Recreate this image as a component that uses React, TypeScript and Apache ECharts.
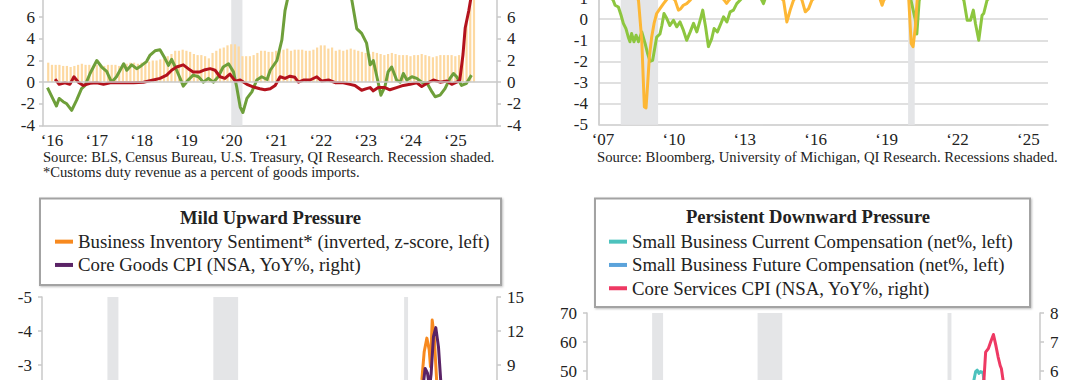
import React, { useEffect, useRef } from "react";
import * as echarts from "echarts";

const FONT = "'Liberation Serif', 'Times New Roman', serif";
const AXIS_GRAY = "#C9C9C9";
const SHADE = "#E4E5E7";
const TEXT = "#222222";

// ---------- Top-left panel ----------
const tlYearTicks = [2016, 2017, 2018, 2019, 2020, 2021, 2022, 2023, 2024, 2025];
const tlValueTicks = [-4, -2, 0, 2, 4, 6];
const tlBarStart = 2015 + 11 / 12; // Dec 2015, monthly
const tlDutyRate = [
  1.8,
  1.6, 1.6, 1.6, 1.5, 1.5, 1.4, 1.5, 1.6, 1.7, 1.6, 1.6, 1.5,
  1.6, 1.5, 1.5, 1.6, 1.6, 1.6, 1.5, 1.6, 1.7, 1.8, 1.8, 1.7,
  1.8, 1.8, 1.9, 2.0, 2.0, 2.1, 2.2, 2.4, 2.6, 2.9, 2.9, 3.0,
  2.9, 2.8, 2.6, 2.5, 2.5, 2.4, 2.2, 2.7, 2.9, 3.1, 3.2, 3.4,
  3.5, 3.5, 3.3, 2.4, 2.4, 2.4, 2.5, 2.7, 2.9, 2.9, 2.8, 2.8,
  2.9, 2.9, 3.0, 3.1, 2.9, 3.0, 3.0, 3.0, 2.9, 2.9, 3.0, 3.2,
  3.4, 3.4, 3.1, 3.2, 2.9, 3.0, 2.9, 3.0, 3.1, 3.0, 2.9, 2.8,
  2.7, 2.6, 2.8, 2.7, 2.6, 2.5, 2.6, 2.7, 2.6, 2.5, 2.5, 2.5,
  2.4, 2.5, 2.5, 2.6, 2.5, 2.4, 2.3, 2.4, 2.5, 2.5, 2.5, 2.5,
  2.4, 2.5, 2.7, 5.5, 8.6, 9.5,
];
const tlGreen = [
  [2015.9, -0.5], [2016.0, -1.35], [2016.1, -2.2], [2016.16, -1.5], [2016.25, -1.8], [2016.33, -2.0],
  [2016.44, -2.6], [2016.55, -1.65], [2016.66, -0.6], [2016.74, -0.3], [2016.85, 0.8], [2017.0, 2.0],
  [2017.11, 1.4], [2017.22, 1.0], [2017.33, 0.0], [2017.44, 0.5], [2017.6, 1.7], [2017.67, 1.1],
  [2017.78, 1.6], [2017.89, 1.25], [2018.0, 1.55], [2018.11, 1.9], [2018.19, 2.5], [2018.3, 2.9],
  [2018.41, 3.0], [2018.52, 2.2], [2018.6, 1.55], [2018.67, 2.1], [2018.75, 1.4], [2018.86, 0.35],
  [2018.93, -0.37], [2019.04, 0.2], [2019.15, 0.65], [2019.27, 0.5], [2019.38, 0.0], [2019.49, 0.35],
  [2019.6, 0.0], [2019.71, 0.5], [2019.82, 1.4], [2019.94, 1.7], [2020.05, 0.95], [2020.12, -0.4],
  [2020.2, -2.3], [2020.26, -2.8], [2020.35, -1.5], [2020.46, -0.9], [2020.57, 0.2], [2020.68, 0.5],
  [2020.8, 0.25], [2020.87, 1.1], [2021.02, 2.0], [2021.13, 3.9], [2021.2, 6.6], [2021.3, 8.5],
  [2021.5, 10.0], [2021.9, 11.0], [2022.2, 11.5], [2022.5, 9.5], [2022.69, 7.6], [2022.8, 4.95],
  [2022.91, 4.5], [2023.02, 3.6], [2023.1, 1.6], [2023.17, 2.0], [2023.25, 0.5], [2023.34, -1.2],
  [2023.43, -0.4], [2023.5, 0.95], [2023.58, 1.4], [2023.69, 0.2], [2023.77, 0.0], [2023.84, 0.8],
  [2023.92, 0.2], [2024.03, 0.5], [2024.14, 0.35], [2024.25, 0.0], [2024.37, -0.1], [2024.48, -0.9],
  [2024.55, -1.35], [2024.66, -1.2], [2024.77, -0.6], [2024.88, 0.35], [2024.96, 0.8], [2025.03, 0.5],
  [2025.14, -0.3], [2025.25, -0.1], [2025.36, 0.65],
];
const tlRed = [
  [2016.07, 0.28], [2016.16, -0.2], [2016.29, -0.05], [2016.4, -0.2], [2016.49, 0.5], [2016.59, 0.0],
  [2016.7, -0.3], [2016.85, -0.1], [2017.0, -0.05], [2017.15, -0.2], [2017.3, -0.05], [2017.52, -0.05],
  [2017.82, -0.05], [2018.04, 0.0], [2018.26, 0.2], [2018.41, 0.35], [2018.56, 0.65], [2018.67, 1.1],
  [2018.78, 1.4], [2018.93, 1.6], [2019.04, 1.25], [2019.15, 0.95], [2019.3, 0.95], [2019.42, 1.15],
  [2019.53, 1.25], [2019.64, 1.1], [2019.75, 0.5], [2019.86, 0.35], [2019.97, 0.75], [2020.09, 0.1],
  [2020.2, 0.2], [2020.35, -0.2], [2020.5, -0.45], [2020.64, -0.6], [2020.75, -0.7], [2020.87, -0.6],
  [2020.98, -0.3], [2021.09, 0.5], [2021.2, 0.35], [2021.31, 0.55], [2021.42, 0.45], [2021.5, 0.0],
  [2021.61, 0.2], [2021.76, 0.2], [2021.91, 0.5], [2022.02, 0.1], [2022.17, 0.2], [2022.32, -0.05],
  [2022.5, -0.05], [2022.65, -0.2], [2022.76, -0.3], [2022.91, -0.75], [2023.02, -0.6], [2023.1, -0.5],
  [2023.17, -0.8], [2023.28, -0.5], [2023.43, -0.5], [2023.54, -0.7], [2023.69, -0.5], [2023.84, -0.3],
  [2023.99, -0.2], [2024.14, -0.05], [2024.25, -0.4], [2024.37, -0.1], [2024.51, 0.2], [2024.66, 0.0],
  [2024.81, 0.1], [2024.92, -0.2], [2025.03, 0.0], [2025.1, 0.2], [2025.17, 2.5], [2025.22, 5.0],
  [2025.3, 6.6], [2025.42, 9.5],
];
const tlRecessions = [[2020.0, 2020.25]];

// ---------- Top-right panel ----------
const trYearTicks = [2007, 2010, 2013, 2016, 2019, 2022, 2025];
const trValueTicks = [-5, -4, -3, -2, -1, 0, 1];
const trGreen = [
  [2007.0, 1.6], [2007.3, 1.3], [2007.6, 0.9], [2007.68, 0.66], [2007.82, 0.58], [2007.93, 0.2],
  [2008.03, -0.2], [2008.14, -0.45], [2008.24, -0.85], [2008.31, -1.07], [2008.38, -0.68], [2008.48, -1.07],
  [2008.57, -0.76], [2008.67, -1.07], [2008.81, -0.6], [2008.95, -1.15], [2009.05, -1.6], [2009.16, -2.0],
  [2009.27, -1.95], [2009.37, -1.3], [2009.44, -0.85], [2009.58, -0.7], [2009.66, -0.3], [2009.75, 0.27],
  [2009.87, 0.03], [2010.0, -0.3], [2010.15, -0.05], [2010.29, -0.36], [2010.43, -0.13], [2010.57, -0.52],
  [2010.71, -1.0], [2010.86, -0.6], [2011.0, -0.2], [2011.14, -0.6], [2011.28, -0.05], [2011.39, 0.43],
  [2011.51, -0.36], [2011.63, -1.3], [2011.77, -0.92], [2011.87, -0.44], [2012.01, -0.6], [2012.16, -0.2],
  [2012.27, 0.11], [2012.41, -0.13], [2012.55, 0.35], [2012.69, 0.43], [2012.83, 0.74], [2012.97, 0.9],
  [2013.3, 1.3], [2013.8, 1.1], [2013.96, 0.74], [2014.1, 1.2], [2015.0, 1.5], [2016.0, 1.4],
  [2017.0, 1.7], [2018.0, 1.8], [2019.0, 1.6], [2019.9, 1.3], [2020.2, 0.9], [2020.38, 0.0],
  [2020.45, -0.7], [2020.55, 0.9], [2021.0, 1.8], [2021.8, 1.4], [2022.3, 1.1], [2022.44, 0.9],
  [2022.58, -0.05], [2022.72, -0.05], [2022.84, 0.43], [2022.93, -0.2], [2023.07, -1.0], [2023.21, 0.19],
  [2023.28, 0.27], [2023.42, 0.9], [2024.0, 1.5], [2024.8, 1.7], [2025.5, 1.4],
];
const trOrange = [
  [2007.0, 1.5], [2007.5, 1.3], [2008.0, 1.6], [2008.5, 1.2], [2008.67, 0.9], [2008.81, -1.0],
  [2008.88, -3.05], [2008.92, -4.16], [2008.99, -4.2], [2009.06, -3.05], [2009.13, -1.8], [2009.23, -0.84],
  [2009.33, -0.2], [2009.44, 0.27], [2009.58, 0.5], [2009.73, 0.74], [2009.84, 0.9], [2010.0, 1.1],
  [2010.22, 0.9], [2010.36, 0.43], [2010.46, 0.5], [2010.57, 0.66], [2010.71, 0.74], [2010.86, 0.9],
  [2011.2, 1.4], [2012.0, 1.3], [2012.3, 0.9], [2012.4, 0.75], [2012.5, 0.9], [2013.0, 1.5],
  [2014.0, 1.6], [2014.81, 0.9], [2014.95, -0.13], [2015.09, 0.43], [2015.23, 0.9], [2015.45, 1.2],
  [2015.59, 0.9], [2015.73, 0.35], [2015.87, 0.5], [2016.01, 0.9], [2017.0, 1.8], [2018.0, 1.9],
  [2018.85, 1.1], [2018.91, 0.9], [2018.98, 0.66], [2019.05, 0.9], [2019.5, 1.5], [2020.0, 1.4],
  [2020.11, 0.9], [2020.21, -1.15], [2020.29, -1.3], [2020.39, -0.36], [2020.46, 0.9], [2021.0, 1.7],
  [2022.0, 1.2], [2023.0, 1.4], [2024.0, 1.6], [2025.0, 1.3], [2025.5, 1.1],
];
const trRecessions = [[2007.92, 2009.5], [2020.08, 2020.36]];

// ---------- Bottom panels (shared recessions) ----------
const bottomRecessions = [[2001.17, 2001.87], [2007.92, 2009.5], [2020.08, 2020.33]];

const blLeftTicks = [-5, -4, -3];
const blRightTicks = [15, 12, 9];
const blInventory = [
  [1997, 0.2], [1998, -0.3], [1999, 0.1], [2000, -0.5], [2001, 0.8], [2002, 0.3], [2003, -0.2],
  [2004, -1.0], [2005, -0.4], [2006, 0.2], [2007, 0.5], [2008, 1.2], [2009, 1.8], [2010, 0.3],
  [2011, -0.2], [2012, 0.4], [2013, 0.2], [2014, -0.3], [2015, 0.1], [2016, 0.3], [2017, -0.2],
  [2018, -0.8], [2019, 0.0], [2020, 0.6], [2020.5, -0.5], [2020.9, -1.4], [2021.21, -2.56],
  [2021.36, -3.39], [2021.53, -3.79], [2021.68, -3.44], [2021.76, -2.95], [2021.87, -4.32],
  [2022.0, -3.83], [2022.17, -2.4], [2022.4, -1.6], [2022.7, -0.8], [2023.0, -0.2], [2023.5, 0.4],
  [2024.0, 0.6], [2024.5, 0.3], [2025.0, 0.5], [2025.4, 0.2],
];
const blCoreGoods = [
  [1997, 0.9], [1998, 0.6], [1999, 0.5], [2000, 0.4], [2001, 0.3], [2002, -1.0], [2003, -2.0],
  [2004, -0.7], [2005, 0.5], [2006, 0.3], [2007, -0.3], [2008, 0.6], [2009, 1.7], [2010, 0.9],
  [2011, 0.5], [2012, 2.0], [2013, 0.3], [2014, -0.3], [2015, -0.6], [2016, -0.6], [2017, -0.4],
  [2018, 0.1], [2019, 0.2], [2020, -0.4], [2020.5, -0.5], [2021.0, 1.2], [2021.2, 4.5],
  [2021.32, 7.5], [2021.42, 8.7], [2021.57, 8.27], [2021.7, 7.0], [2021.8, 8.2], [2021.95, 11.5],
  [2022.1, 12.3], [2022.27, 10.6], [2022.42, 7.5], [2022.7, 6.6], [2023.0, 2.1], [2023.5, 0.8],
  [2024.0, -0.3], [2024.5, -1.7], [2025.0, -0.5], [2025.4, 0.7],
];

const brLeftTicks = [70, 60, 50];
const brRightTicks = [8, 7, 6];
const brCurrentComp = [
  [1997, 20], [1998, 22], [1999, 24], [2000, 28], [2001, 22], [2002, 15], [2003, 14], [2004, 19],
  [2005, 22], [2006, 24], [2007, 22], [2008, 14], [2009, 0], [2010, 2], [2011, 8], [2012, 9],
  [2013, 12], [2014, 17], [2015, 22], [2016, 24], [2017, 27], [2018, 33], [2019, 31], [2020.2, 27],
  [2020.4, 15], [2020.8, 24], [2021.3, 32], [2021.6, 42], [2021.77, 46.9], [2021.88, 49.8],
  [2021.98, 50.3], [2022.09, 49.2], [2022.2, 49.8], [2022.35, 49.5], [2022.41, 46.5], [2022.6, 45],
  [2022.9, 44], [2023.3, 41], [2023.7, 38], [2024.0, 37], [2024.5, 36], [2025.0, 34], [2025.4, 32],
];
const brFutureComp = [
  [1997, 15], [1998, 16], [1999, 17], [2000, 19], [2001, 15], [2002, 11], [2003, 12], [2004, 15],
  [2005, 16], [2006, 17], [2007, 16], [2008, 10], [2009, 2], [2010, 5], [2011, 8], [2012, 7],
  [2013, 10], [2014, 13], [2015, 14], [2016, 15], [2017, 18], [2018, 22], [2019, 20], [2020.3, 8],
  [2020.8, 16], [2021.5, 26], [2021.9, 32], [2022.5, 26], [2023.0, 23], [2024.0, 21], [2025.0, 19],
  [2025.4, 18],
];
const brCoreServices = [
  [1997, 3.0], [1998, 3.1], [1999, 2.8], [2000, 3.3], [2001, 3.8], [2002, 3.6], [2003, 3.2],
  [2004, 2.9], [2005, 3.0], [2006, 3.6], [2007, 3.4], [2008, 3.4], [2009, 1.7], [2010, 1.0],
  [2011, 1.8], [2012, 2.6], [2013, 2.4], [2014, 2.6], [2015, 2.6], [2016, 3.0], [2017, 2.6],
  [2018, 2.9], [2019, 3.1], [2020, 3.1], [2020.5, 2.3], [2021.0, 2.1], [2021.5, 3.0], [2022.0, 4.6],
  [2022.3, 5.2], [2022.41, 5.69], [2022.52, 6.65], [2022.69, 6.77], [2022.84, 7.0], [2023.02, 7.26],
  [2023.17, 6.89], [2023.32, 6.48], [2023.45, 6.19], [2023.53, 6.08], [2023.64, 5.67], [2024.0, 5.3],
  [2024.5, 4.8], [2025.0, 4.2], [2025.4, 3.6],
];

const BL_TITLE = "Mild Upward Pressure";
const BL_NAMES = ["Business Inventory Sentiment* (inverted, z-score, left)", "Core Goods CPI (NSA, YoY%, right)"];
const BR_TITLE = "Persistent Downward Pressure";
const BR_NAMES = [
  "Small Business Current Compensation (net%, left)",
  "Small Business Future Compensation (net%, left)",
  "Core Services CPI (NSA, YoY%, right)",
];
const TL_SOURCE = "Source: BLS, Census Bureau, U.S. Treasury, QI Research. Recession shaded.";
const TL_NOTE = "*Customs duty revenue as a percent of goods imports.";
const TR_SOURCE = "Source: Bloomberg, University of Michigan, QI Research. Recessions shaded.";

const yearLabel = (v: number) => "\u2018" + String(Math.round(v)).slice(2);

function shadeSeries(xi: number, yi: number, ranges: number[][], x0: number, zero = false) {
  const s: any = {
    type: "line",
    xAxisIndex: xi,
    yAxisIndex: yi,
    data: [[x0, 0]],
    symbol: "none",
    lineStyle: { width: 0, opacity: 0 },
    silent: true,
    z: 1,
    markArea: {
      silent: true,
      itemStyle: { color: SHADE },
      data: ranges.map(([a, b]) => [{ xAxis: a }, { xAxis: b }]),
    },
  };
  if (zero) {
    s.markLine = {
      silent: true,
      symbol: "none",
      label: { show: false },
      lineStyle: { color: AXIS_GRAY, width: 1.5, type: "solid" },
      data: [{ yAxis: 0 }],
    };
  }
  return s;
}

function lineSeries(name: string, data: number[][], color: string, xi: number, yi: number) {
  return {
    name,
    type: "line",
    xAxisIndex: xi,
    yAxisIndex: yi,
    data,
    symbol: "none",
    lineStyle: { color, width: 3, join: "round" },
    itemStyle: { color },
    z: 3,
  };
}

const axisLabelStyle = { fontFamily: FONT, fontSize: 17, color: TEXT };

export default function App() {
  const ref = useRef<HTMLDivElement>(null);
  useEffect(() => {
    if (!ref.current) return;
    const chart = echarts.init(ref.current, undefined, { renderer: "svg" });
    const yAxisBase = (
      gridIndex: number,
      min: number,
      max: number,
      interval: number,
      position: string,
      ticks: number[],
      margin: number,
      extra: any = {}
    ) => ({
      type: "value",
      gridIndex,
      min,
      max,
      interval,
      position,
      axisLine: { show: true, lineStyle: { color: AXIS_GRAY, width: 1.5 } },
      axisTick: { show: true, length: 4, customValues: ticks, lineStyle: { color: AXIS_GRAY, width: 1.5 } },
      axisLabel: { ...axisLabelStyle, margin, customValues: ticks },
      splitLine: { show: false },
      ...extra,
    });

    const gridBase = { outerBoundsMode: "none", containLabel: false };
    const option: any = {
      animation: false,
      backgroundColor: "#ffffff",
      grid: [
        { ...gridBase, left: 43, top: -47.8, width: 454, height: 173.3 },
        { ...gridBase, left: 599, top: -44.1, width: 449, height: 168.8 },
        { ...gridBase, left: 42, top: 297, width: 455, height: 272 },
        { ...gridBase, left: 587, top: 313, width: 453, height: 232 },
      ],
      xAxis: [
        {
          type: "value",
          gridIndex: 0,
          min: 2015.8,
          max: 2025.93,
          axisLine: { show: true, onZero: false, lineStyle: { color: AXIS_GRAY, width: 1.5 } },
          axisTick: { show: false },
          splitLine: { show: false },
          axisLabel: { ...axisLabelStyle, margin: 6, customValues: tlYearTicks, formatter: yearLabel },
        },
        {
          type: "value",
          gridIndex: 1,
          min: 2007,
          max: 2026,
          axisLine: { show: true, onZero: false, lineStyle: { color: "#D3D3D3", width: 1.5 } },
          axisTick: { show: false },
          splitLine: { show: false },
          axisLabel: { ...axisLabelStyle, margin: 6, padding: [0, 0, 0, 8], customValues: trYearTicks, formatter: yearLabel },
        },
        { type: "value", gridIndex: 2, min: 1997, max: 2026, show: false, splitLine: { show: false } },
        { type: "value", gridIndex: 3, min: 1997, max: 2026, show: false, splitLine: { show: false } },
      ],
      yAxis: [
        yAxisBase(0, -4, 12, 2, "left", tlValueTicks, 8),
        yAxisBase(0, -4, 12, 2, "right", tlValueTicks, 10),
        yAxisBase(1, -5, 3, 1, "left", trValueTicks, 11, {
          axisTick: { show: false },
          axisLine: { show: true, lineStyle: { color: "#C4C4C4", width: 1.5 } },
          splitLine: { show: true, lineStyle: { color: "#D6D6D6", width: 1.5 } },
        }),
        yAxisBase(2, -5, 3, 1, "left", blLeftTicks, 10, { inverse: true }),
        yAxisBase(2, -9, 15, 3, "right", blRightTicks, 10),
        yAxisBase(3, -10, 70, 10, "left", brLeftTicks, 10),
        yAxisBase(3, 0, 8, 1, "right", brRightTicks, 10),
      ],
      legend: [
        {
          data: BL_NAMES,
          orient: "vertical",
          left: 55,
          top: 230,
          padding: 0,
          itemGap: 0,
          itemWidth: 18,
          itemHeight: 4,
          icon: "rect",
          selectedMode: false,
          textStyle: { fontFamily: FONT, fontSize: 18.8, color: TEXT, lineHeight: 23.3 },
        },
        {
          data: BR_NAMES,
          orient: "vertical",
          left: 609,
          top: 230,
          padding: 0,
          itemGap: 0,
          itemWidth: 18,
          itemHeight: 4,
          icon: "rect",
          selectedMode: false,
          textStyle: { fontFamily: FONT, fontSize: 18.8, color: TEXT, lineHeight: 23.3 },
        },
      ],
      graphic: [
        {
          type: "rect",
          z: 0,
          shape: { x: 40, y: 198.5, width: 461, height: 86.5 },
          style: { fill: "#ffffff", stroke: "#A3A3A3", lineWidth: 2, shadowColor: "rgba(0,0,0,0.25)", shadowBlur: 2, shadowOffsetX: 1, shadowOffsetY: 1 },
        },
        {
          type: "rect",
          z: 0,
          shape: { x: 595, y: 198.5, width: 435, height: 108.5 },
          style: { fill: "#ffffff", stroke: "#A3A3A3", lineWidth: 2, shadowColor: "rgba(0,0,0,0.25)", shadowBlur: 2, shadowOffsetX: 1, shadowOffsetY: 1 },
        },
        {
          type: "text",
          x: 270.5,
          y: 217,
          z: 5,
          style: { text: BL_TITLE, fontFamily: FONT, fontSize: 18.6, fontWeight: "bold", fill: TEXT, align: "center", verticalAlign: "middle" },
        },
        {
          type: "text",
          x: 808,
          y: 216,
          z: 5,
          style: { text: BR_TITLE, fontFamily: FONT, fontSize: 18.6, fontWeight: "bold", fill: TEXT, align: "center", verticalAlign: "middle" },
        },
        {
          type: "text",
          x: 43,
          y: 157,
          style: { text: TL_SOURCE, fontFamily: FONT, fontSize: 14.6, fill: TEXT, align: "left", verticalAlign: "middle" },
        },
        {
          type: "text",
          x: 43,
          y: 172,
          style: { text: TL_NOTE, fontFamily: FONT, fontSize: 14.6, fill: TEXT, align: "left", verticalAlign: "middle" },
        },
        {
          type: "text",
          x: 597,
          y: 157,
          style: { text: TR_SOURCE, fontFamily: FONT, fontSize: 14.7, fill: TEXT, align: "left", verticalAlign: "middle" },
        },
      ],
      series: [
        shadeSeries(0, 0, tlRecessions, 2016, true),
        {
          name: "Customs duty revenue*",
          type: "bar",
          xAxisIndex: 0,
          yAxisIndex: 0,
          barWidth: 2.2,
          data: tlDutyRate.map((v, i) => [tlBarStart + i / 12, v]),
          itemStyle: { color: "#FDD9A1" },
          z: 2,
        },
        lineSeries("Import prices", tlGreen, "#6E9F3A", 0, 0),
        lineSeries("Tariff contribution", tlRed, "#B3121D", 0, 0),

        shadeSeries(1, 2, trRecessions, 2007),
        lineSeries("Sentiment A", trGreen, "#8DC63F", 1, 2),
        lineSeries("Sentiment B", trOrange, "#FDB735", 1, 2),

        shadeSeries(2, 3, bottomRecessions, 1997),
        lineSeries(BL_NAMES[0], blInventory, "#F7891F", 2, 3),
        lineSeries(BL_NAMES[1], blCoreGoods, "#5A2366", 2, 4),

        shadeSeries(3, 5, bottomRecessions, 1997),
        lineSeries(BR_NAMES[0], brCurrentComp, "#4CC2BD", 3, 5),
        lineSeries(BR_NAMES[1], brFutureComp, "#5BA3DB", 3, 5),
        lineSeries(BR_NAMES[2], brCoreServices, "#EE3963", 3, 6),
      ],
    };
    chart.setOption(option);
    return () => chart.dispose();
  }, []);
  return (
    <div
      ref={ref}
      style={{ position: "absolute", left: 0, top: 0, width: 1080, height: 380, background: "#fff" }}
    />
  );
}
